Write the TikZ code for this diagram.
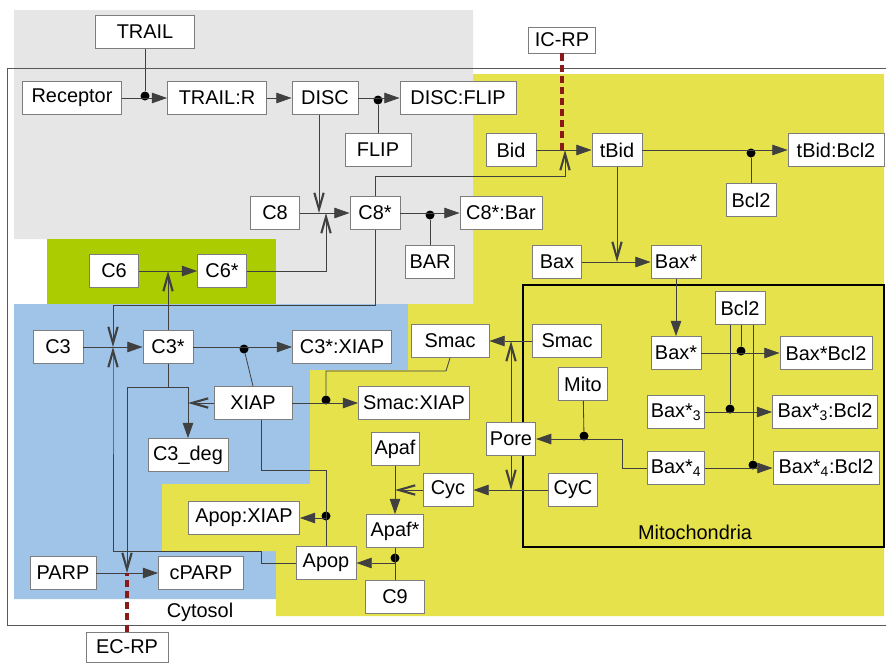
\documentclass[tikz,border=0pt]{standalone}
\usepackage{fontspec}
\setmainfont{Liberation Sans}
\usetikzlibrary{arrows.meta}

\definecolor{cellgray}{RGB}{230,230,230}
\definecolor{limegreen}{RGB}{170,204,0}
\definecolor{cytoblue}{RGB}{160,196,232}
\definecolor{mitoyellow}{RGB}{230,226,76}
\definecolor{boxline}{RGB}{125,125,125}
\definecolor{rpred}{RGB}{140,25,25}

\tikzset{
  sp/.style={draw=boxline, line width=0.8pt, fill=white, minimum height=9.9mm,
    inner xsep=3pt, inner ysep=0pt, font=\fontsize{17}{19}\selectfont},
  jn/.style={circle, fill=black, inner sep=0pt, minimum size=2.7mm},
  ln/.style={draw=black!75, line width=0.7pt},
  rx/.style={ln, -{Triangle[length=13pt,width=9pt]}},
  cat/.style={ln, -{Straight Barb[length=14pt,width=8pt,line width=1.8pt]}},
  rp/.style={draw=rpred, line width=3.5pt, dash pattern=on 6pt off 3.5pt},
  lbl/.style={font=\fontsize{17}{19}\selectfont}
}

\begin{document}
\begin{tikzpicture}[x=0.3mm,y=-0.3mm]
	\useasboundingbox (0,0) rectangle (886,662);
	% compartments
	\fill[cellgray] (14,10) -- (473,10) -- (473,304) -- (47,304) -- (47,239) -- (14,239) -- cycle;
	\fill[limegreen] (47,239) rectangle (276,304);
	\fill[cytoblue] (14,304) -- (408,304) -- (408,370) -- (310,370) -- (310,484) -- (162,484)
		-- (162,551) -- (276,551) -- (276,599) -- (14,599) -- cycle;
	\fill[mitoyellow] (473,74) -- (884,74) -- (884,616) -- (276,616) -- (276,551) -- (162,551)
		-- (162,484) -- (310,484) -- (310,370) -- (408,370) -- (408,304) -- (473,304) -- cycle;
	\draw[black!65, line width=0.8pt] (886,68) -- (7,68) -- (7,625) -- (886,625);
	\draw[black, line width=2pt] (523,285) rectangle (884,547);
	\node[lbl] (mitolbl) at (695,532) {Mitochondria};
	\node[lbl] (cytolbl) at (200,612) {Cytosol};

	% species
	\foreach \n/\x/\y/\w/\t in {
		trail/145/32/99/TRAIL, rec/72/98/99/Receptor, trailr/217/98/99/TRAIL:R,
		disc/325/98/66/DISC, discflip/458/98/116/DISC:FLIP, flip/378/150/66/FLIP,
		cviii/275/213/49/C8, cviiis/375/213/50/C8*, cviiibar/501/213/82/C8*:Bar,
		bar/430/262/49/BAR, bid/511/150/50/Bid, tbid/617/150/50/tBid,
		tbidbcl/836/150/96/tBid:Bcl2, bcla/751/200/50/Bcl2,
		bax/557/262/49/Bax, baxs/676/262/50/Bax*, bclb/740/308/50/Bcl2,
		baxm/676/353/50/Bax*, baxbcl/826/353/92/Bax*Bcl2,
		smacm/567/341/69/Smac, smacc/450/341/78/Smac, mito/583/384/49/Mito,
		baxiii/676/412/56/Bax*\textsubscript{3}, baxiiibcl/825/412/105/Bax*\textsubscript{3}:Bcl2,
		pore/511/439/49/Pore, baxiv/676/468/56/Bax*\textsubscript{4},
		baxivbcl/826/468/106/Bax*\textsubscript{4}:Bcl2,
		cycm/573/490/49/CyC, cyc/448/490/50/Cyc, apaf/395/449/48/Apaf,
		apafs/395/531/57/Apaf*, apop/326/563/60/Apop, cix/395/597/59/C9,
		apopxiap/244/518/111/Apop:XIAP, smacxiap/414/403/111/Smac:XIAP,
		xiap/253/403/78/XIAP, ciiisxiap/342/347/99/C3*:XIAP,
		ciiis/168/347/50/C3*, ciii/58/347/50/C3, ciiideg/188/455/80/C3\_deg,
		cvi/114/271/49/C6, cvis/222/271/49/C6*,
		parp/63/573/66/PARP, cparp/201/573/85/cPARP}
	\node[sp, minimum width=\w*0.3mm] (\n) at (\x,\y) {\t};
	\node[sp, minimum width=67*0.3mm, minimum height=7.8mm] (icrp) at (562,40) {IC-RP};
	\node[sp, minimum width=82*0.3mm, minimum height=9mm] (ecrp) at (127,647) {EC-RP};

	% junctions and catalysis points
	\foreach \n/\x/\y in {dtrail/145/96, dflip/378/100, dbar/430/215, dtb/751/153,
		dcx/244/349, dsx/326/400, dax/326/516, dap/395/558, dmito/584/436,
		dbx/741/351, dbxiii/730/409, dbxiv/753/465}
	\node[jn] (\n) at (\x,\y) {};
	\foreach \n/\x/\y in {kdisc/319/213, kcvi/326/213, kbid/565/150, kciiia/113/347,
		kparp/127/573}
	\coordinate (\n) at (\x,\y);

	% receptor and DISC
	\draw[rx] (rec) -- (trailr);
	\draw[ln] (trail) -- (dtrail);
	\draw[rx] (trailr) -- (disc);
	\draw[rx] (disc) -- (discflip);
	\draw[ln] (flip) -- (dflip);
	\draw[cat] (kdisc |- disc.south) -- (kdisc);
	\draw[rx] (cviii) -- (cviiis);
	\draw[cat] (cvis.east) -| (kcvi);
	\draw[rx] (cviiis) -- (cviiibar);
	\draw[ln] (bar) -- (dbar);
	\draw[cat] (cviiis.north) -- ++(0,-20) -| (kbid);
	\draw[cat] (cviiis.south) -- ++(0,75) -| (kciiia);
	% Bid and Bax
	\draw[rx] (bid) -- (tbid);
	\draw[rx] (tbid) -- (tbidbcl);
	\draw[ln] (bcla) -- (dtb);
	\draw[cat] (tbid.south) -- (tbid.south |- bax);
	\draw[rx] (bax) -- (baxs);
	\draw[rx] (baxs) -- (baxm);
	\draw[rx] (baxm) -- (baxbcl);
	\draw[rx] (baxiii) -- (baxiiibcl);
	\draw[rx] (baxiv) -- (baxivbcl);
	\draw[ln] (bclb.south -| dbx) -- (dbx);
	\draw[ln] (bclb.south -| dbxiii) -- (dbxiii);
	\draw[ln] (bclb.south -| dbxiv) -- (dbxiv);
	% pore, smac, cytochrome c
	\draw[rx] (baxiv.west) -- (622,468) |- (pore.east);
	\draw[ln] (mito) -- (dmito);
	\draw[rx] (smacm) -- (smacc);
	\draw[cat] (pore.north) -- (pore.north |- smacc);
	\draw[rx] (cycm) -- (cyc);
	\draw[cat] (pore.south) -- (pore.south |- cyc);
	\draw[rx] (apaf) -- (apafs);
	\draw[cat] (cyc.west) -- (cyc.west -| apaf);
	\draw[ln] (apafs) -- (cix);
	\draw[rx] (cix.north |- apop) -- (apop.east);
	% caspases and XIAP
	\draw[rx] (cvi) -- (cvis);
	\draw[cat] (ciiis.north) -- (ciiis.north |- cvi);
	\draw[rx] (ciii) -- (ciiis);
	\draw[cat] (apop.west) -- ++(-34,0) -- ++(0,-12) -| ([yshift=-3.6mm]kciiia) -- (kciiia);
	\draw[rx] (ciiis) -- (ciiisxiap);
	\draw[ln] (xiap.north) -- (dcx);
	\draw[rx] (ciiis.south) -- ++(0,23) -| (ciiideg.north);
	\draw[cat] (ciiis.south) -- ++(0,23) -| (kparp);
	\draw[cat] (xiap.west) -- (xiap.west -| ciiideg.north);
	\draw[rx] (xiap) -- (smacxiap);
	\draw[ln] (smacc.south) -- ++(-4,13) -| (dsx);
	\draw[ln] ([xshift=2.4mm]xiap.south) -- ++(0,50) -| (apop.north);
	\draw[rx] (dax.south |- apopxiap) -- (apopxiap.east);
	\draw[rx] (parp) -- (cparp);
	% reporters
	\draw[rp] (icrp) -- (icrp |- bid);
	\draw[rp] (ecrp) -- (ecrp |- parp);
\end{tikzpicture}
\end{document}
